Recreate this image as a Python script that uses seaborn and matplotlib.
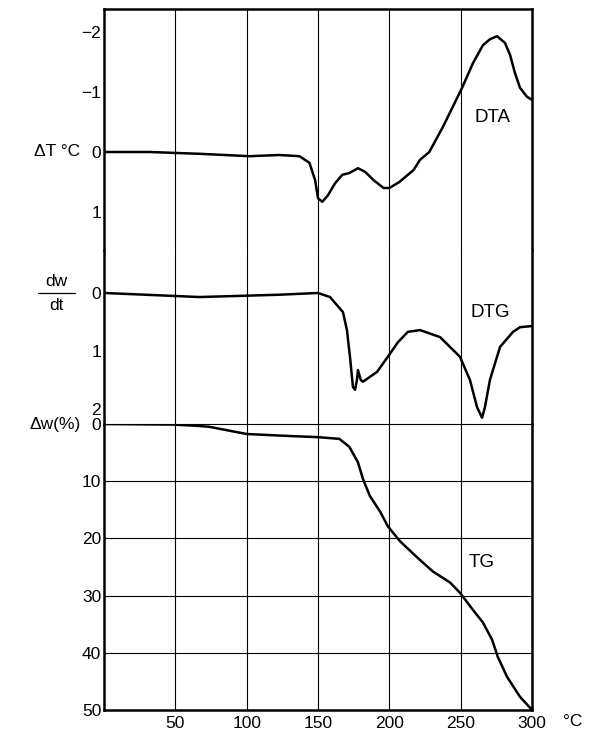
import matplotlib
matplotlib.use("Agg")
import matplotlib.pyplot as plt
from matplotlib.lines import Line2D
import seaborn as sns

# temperature in deg C and the three traces
DTA_T = [0, 32, 67, 102, 123, 137, 144, 148, 150, 153, 157, 162, 167, 172, 178,
         183, 189, 196, 200, 207, 217, 221.5, 228, 237.6, 251, 258.6, 265.6,
         270.6, 275.5, 281, 284.6, 288, 291.6, 296.5, 300]
DTA_V = [0.0, 0.0, 0.03, 0.07, 0.05, 0.07, 0.18, 0.47, 0.77, 0.83, 0.72, 0.52,
         0.38, 0.35, 0.27, 0.33, 0.47, 0.6, 0.6, 0.5, 0.3, 0.13, 0.0, -0.42,
         -1.07, -1.48, -1.78, -1.88, -1.93, -1.82, -1.62, -1.32, -1.07, -0.92,
         -0.87]

DTG_T = [0, 67, 123, 150, 158.4, 167.5, 170.3, 172.4, 174.5, 176, 177.3, 178,
         180, 181.5, 191.4, 199.8, 206, 213, 221.5, 235.5, 249.5, 256.5, 261.5,
         265, 267, 270.5, 277.6, 286.7, 291.6, 300]
DTG_V = [0.0, 0.07, 0.03, 0.0, 0.07, 0.33, 0.64, 1.1, 1.62, 1.67, 1.5, 1.33,
         1.5, 1.53, 1.36, 1.07, 0.85, 0.67, 0.64, 0.76, 1.1, 1.5, 1.97, 2.15,
         1.97, 1.5, 0.93, 0.67, 0.59, 0.57]

TG_T = [0, 48, 67, 74, 100, 130, 150, 165, 172, 178, 181.5, 186.4, 193.5, 199,
        207.5, 219.4, 230.6, 242.5, 249.5, 258.6, 265.6, 272, 276, 282.5, 291.6,
        298.6, 300]
TG_V = [0.0, 0.1, 0.35, 0.5, 1.75, 2.1, 2.3, 2.6, 4.0, 6.7, 9.6, 12.6, 15.3,
        17.9, 20.5, 23.3, 25.8, 27.7, 29.5, 32.5, 34.7, 37.7, 40.7, 44.2, 47.7,
        49.6, 50.0]

X_TICKS = [50, 100, 150, 200, 250, 300]
DTA_TICKS = [-2, -1, 0, 1]
DTA_LABELS = ["\u22122", "\u22121", "0", "1"]
DTG_TICKS = [0, 1, 2]
TG_TICKS = [0, 10, 20, 30, 40, 50]

sns.set_theme(style="white")
plt.rcParams["font.family"] = ["Liberation Sans", "DejaVu Sans"]
plt.rcParams["text.color"] = "black"

W, H = 593, 735
fig = plt.figure(figsize=(W / 100, H / 100), dpi=100)


def px_box(top, bottom, left=104, right=532):
    return [left / W, 1 - bottom / H, (right - left) / W, (bottom - top) / H]


ax1 = fig.add_axes(px_box(9, 250))
ax2 = fig.add_axes(px_box(250, 424))
ax3 = fig.add_axes(px_box(424, 710))

FS = 12.5
for ax in (ax1, ax2, ax3):
    ax.set_xlim(0, 300)
    ax.set_xticks(X_TICKS[:-1] if ax is not ax3 else X_TICKS)
    ax.grid(axis="x", color="black", linewidth=0.8)
    ax.tick_params(length=0, labelsize=FS, colors="black", pad=2)
    for s in ax.spines.values():
        s.set_color("black")
        s.set_linewidth(1.8)
        s.set_capstyle("projecting")
    ax.set_facecolor("white")

ax1.spines["bottom"].set_visible(False)
ax2.spines["top"].set_visible(False)
ax2.spines["bottom"].set_linewidth(0.8)
ax3.spines["top"].set_visible(False)
ax1.set_xticklabels([])
ax2.set_xticklabels([])
ax3.set_xticklabels([str(t) for t in X_TICKS])
ax3.tick_params(axis="x", pad=4)

sns.lineplot(x=DTA_T, y=DTA_V, ax=ax1, color="black", linewidth=1.8)
sns.lineplot(x=DTG_T, y=DTG_V, ax=ax2, color="black", linewidth=1.8)
sns.lineplot(x=TG_T, y=TG_V, ax=ax3, color="black", linewidth=1.8)

ax1.set_ylim(1.633, -2.383)
ax1.set_yticks(DTA_TICKS)
ax1.set_yticklabels(DTA_LABELS)

ax2.set_ylim(2.259, -0.741)
ax2.set_yticks(DTG_TICKS)
ax2.set_yticklabels([str(t) for t in DTG_TICKS])

ax3.set_ylim(50, 0)
ax3.set_yticks(TG_TICKS)
ax3.set_yticklabels(["0", "10", "20", "30", "40", "50"])
ax3.grid(axis="y", color="black", linewidth=0.8)

for ax in (ax1, ax2, ax3):
    ax.set_xlabel("")
    ax.set_ylabel("")

ax1.text(272, -0.58, "DTA", fontsize=13.5, ha="center", va="center", color="black")
ax2.text(270.5, 0.33, "DTG", fontsize=13.5, ha="center", va="center", color="black")
ax3.text(265, 24.3, "TG", fontsize=13.5, ha="center", va="center", color="black")

# axis titles drawn in figure pixel coordinates
fig.text(80 / W, 1 - 152 / H, "\u0394T \u00b0C", fontsize=FS, ha="right", va="center")
fig.text(56 / W, 1 - 281 / H, "dw", fontsize=FS, ha="center", va="center")
fig.text(56 / W, 1 - 306 / H, "dt", fontsize=FS, ha="center", va="center")
fig.add_artist(Line2D([38 / W, 75 / W], [1 - 293 / H, 1 - 293 / H],
                      color="black", linewidth=0.9, transform=fig.transFigure))
fig.text(81 / W, 1 - 425 / H, "\u0394w(%)", fontsize=FS, ha="right", va="center")
fig.text(573 / W, 1 - 721 / H, "\u00b0C", fontsize=FS, ha="center", va="center")

fig.savefig("out.png", dpi=100, facecolor="white")
